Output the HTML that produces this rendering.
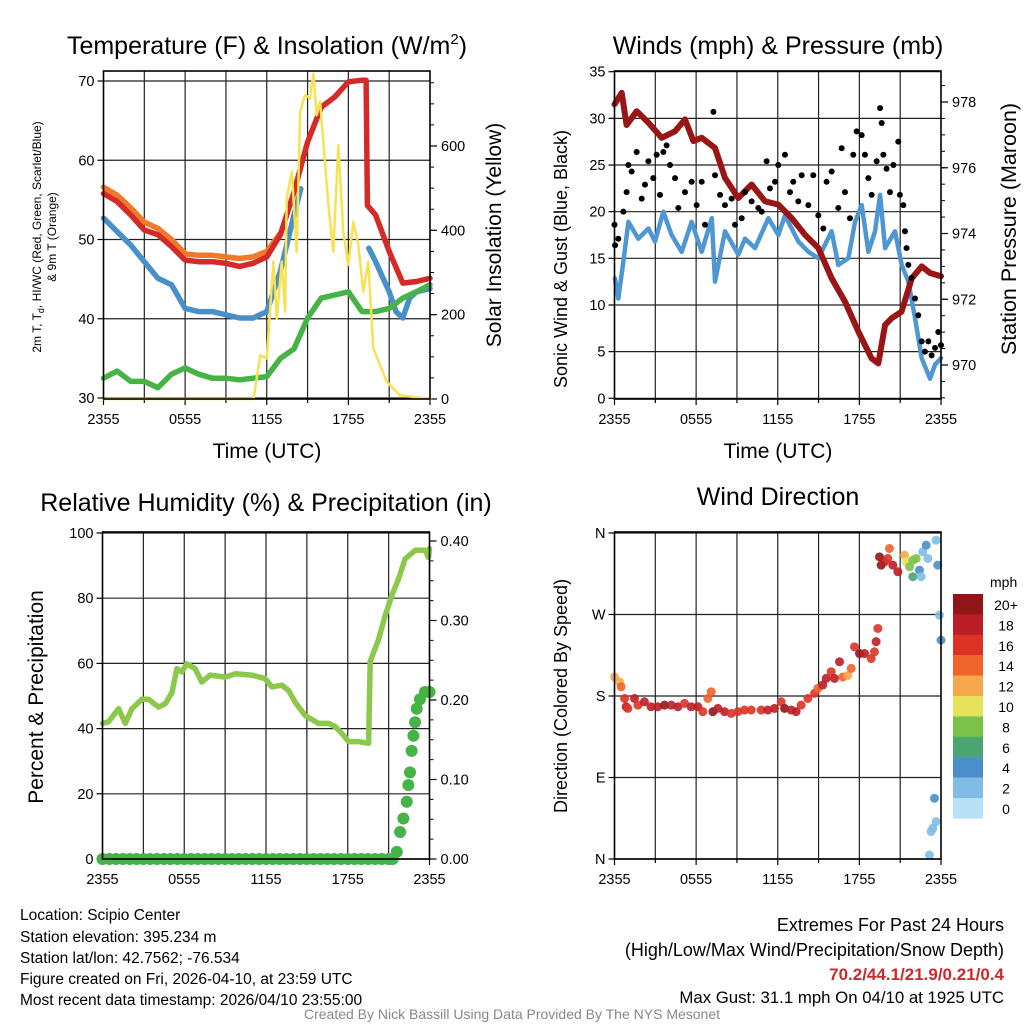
<!DOCTYPE html>
<html><head><meta charset="utf-8"><style>
body{margin:0;background:#fff;font-family:"Liberation Sans",sans-serif}
svg{display:block}
</style></head><body>
<svg id="s" width="1024" height="1024" viewBox="0 0 1024 1024" font-family="Liberation Sans, sans-serif">
<text x="267" y="54" font-size="25" text-anchor="middle">Temperature (F) &amp; Insolation (W/m<tspan dy="-10" font-size="15">2</tspan><tspan dy="10">)</tspan></text>
<text x="778" y="54" font-size="25" text-anchor="middle">Winds (mph) &amp; Pressure (mb)</text>
<text x="266" y="511" font-size="25" text-anchor="middle">Relative Humidity (%) &amp; Precipitation (in)</text>
<text x="778" y="505" font-size="25" text-anchor="middle">Wind Direction</text>
<text transform="translate(41,237) rotate(-90)" font-size="12" text-anchor="middle">2m T, T<tspan font-size="9" dy="3">d</tspan><tspan dy="-3">, HI/WC (Red, Green, Scarlet/Blue)</tspan></text>
<text transform="translate(56,237) rotate(-90)" font-size="12" text-anchor="middle">&amp; 9m T (Orange)</text>
<text transform="translate(501,235) rotate(-90)" font-size="21" text-anchor="middle">Solar Insolation (Yellow)</text>
<text transform="translate(567,259) rotate(-90)" font-size="18" text-anchor="middle">Sonic Wind &amp; Gust (Blue, Black)</text>
<text transform="translate(1016,229) rotate(-90)" font-size="21.5" text-anchor="middle">Station Pressure (Maroon)</text>
<text transform="translate(43,697) rotate(-90)" font-size="21" text-anchor="middle">Percent &amp; Precipitation</text>
<text transform="translate(567,696) rotate(-90)" font-size="18" text-anchor="middle">Direction (Colored By Speed)</text>
<text x="267" y="458" font-size="21" text-anchor="middle">Time (UTC)</text>
<text x="778" y="458" font-size="21" text-anchor="middle">Time (UTC)</text>
<g font-size="15.5">
<text x="20" y="920">Location: Scipio Center</text>
<text x="20" y="942">Station elevation: 395.234 m</text>
<text x="20" y="963">Station lat/lon: 42.7562; -76.534</text>
<text x="20" y="984">Figure created on Fri, 2026-04-10, at 23:59 UTC</text>
<text x="20" y="1005">Most recent data timestamp: 2026/04/10 23:55:00</text>
</g>
<g font-size="18" text-anchor="end">
<text x="1004" y="931">Extremes For Past 24 Hours</text>
<text x="1004" y="956">(High/Low/Max Wind/Precipitation/Snow Depth)</text>
<text x="1004" y="980" fill="#cc2a2a" font-weight="bold" font-size="17">70.2/44.1/21.9/0.21/0.4</text>
<text x="1004" y="1003" font-size="16.8">Max Gust: 31.1 mph On 04/10 at 1925 UTC</text>
</g>
<text x="512" y="1019" font-size="14" fill="#888" text-anchor="middle">Created By Nick Bassill Using Data Provided By The NYS Mesonet</text>
<g id="cb"></g>
</svg>
<script>
// ---------- data ----------
const xTickLabels=["2355","0555","1155","1755","2355"];
const tempTimes=[0,1,2,3,4,5,6,7,8,9,10,11,12,13,14,15,16,17,18,19,19.3,19.4,20,21,22,23,24];
const tempT=[55.8,54.8,53.1,51.2,50.6,49.1,47.4,47.2,47.2,47,46.6,47,47.8,50.6,56,62.3,66.7,68,69.9,70.1,70.1,54.3,53.1,48.5,44.5,44.7,45.1];
const temp9mTimes=[0,1,2,3,4,5,6,7,8,9,10,11,12,13];
const temp9m=[56.6,55.6,54,52.2,51.4,50,48.2,48,48,47.8,47.6,47.8,48.5,50.8];
const wcTimes1=[0,1,2,3,4,5,6,7,8,9,10,11,12,13,14,14.5];
const wc1=[52.7,51,49.3,47.2,45.1,44.3,41.3,40.9,40.9,40.5,40.1,40.1,40.9,46,53.1,56.4];
const wcTimes2=[19.5,20,21,21.5,22,22.5,23,24];
const wc2=[48.9,47.2,43.4,40.9,40.1,42.6,43.4,43.8];
const dewTimes=[0,1,2,3,4,5,6,7,8,9,10,11,12,13,14,15,16,17,18,19,20,21,22,23,24];
const dewVals=[32.5,33.4,32.1,32.1,31.3,33,33.8,33,32.5,32.5,32.3,32.5,32.7,35,36.2,40.1,42.6,43,43.4,40.9,40.9,41.3,42.6,43.4,44.3];
const solTimes=[0,10.54,11.03,11.52,12.0,12.49,12.74,13.1,13.35,13.47,13.84,14.2,14.45,14.82,15.18,15.43,15.67,15.92,16.16,16.53,16.89,17.26,17.63,17.99,18.36,18.73,19.1,19.46,19.83,20.32,20.81,21.78,24];
const solVals=[0,0,0,104,96,326,191,326,207,476,539,349,681,721,713,772,673,705,610,460,349,602,397,318,420,365,254,326,120,81,41,9,0];
const tempTicks=[30,40,50,60,70];
const solTicks=[0,200,400,600];

const presTimes=[0,0.53,0.89,1.63,2.49,3.47,4.45,5.18,5.8,6.41,7.39,8.12,9.1,10.08,11.06,12.04,13.02,14.0,14.98,15.96,16.94,17.92,18.9,19.39,19.89,20.37,21.1,21.85,22.58,23.19,24];
const presVals=[977.93,978.28,977.3,977.72,977.37,976.91,977.11,977.47,976.81,976.91,976.6,975.69,975.08,975.49,974.98,974.88,974.47,973.96,973.56,972.64,971.93,971.02,970.2,970.05,971.22,971.42,971.62,972.64,973.0,972.8,972.7];
const windTimes=[0.04,0.28,0.65,1.02,1.75,2.49,2.98,3.59,4.2,4.94,5.67,6.41,7.15,7.39,8.12,9.1,9.59,10.33,11.31,12.04,12.53,13.51,14.25,14.98,15.96,16.45,17.19,17.68,18.17,18.66,19.15,19.52,19.89,20.62,21.11,21.6,22.09,22.58,23.19,23.56,24];
const windVals=[12.85,10.7,14.6,18.9,17.1,18.2,16.8,20,17.5,15.7,18.9,15.7,19.3,12.5,17.9,15.4,17.1,16.1,19.3,17.5,19.6,16.8,15.7,15,17.9,14.3,15,18.9,20.7,15.7,17.9,21.8,16.1,17.9,14.3,12.5,8.6,4.3,2.1,3.6,4.3];
const gustTimes=[0,0.04,0.28,0.65,0.89,1.02,1.26,1.63,2.0,2.24,2.49,2.85,3.1,3.34,3.59,3.83,4.08,4.45,4.69,5.18,5.67,6.04,6.41,6.65,7.27,7.39,7.76,8.12,8.61,8.86,9.35,9.59,10.08,10.57,10.82,11.18,11.43,11.8,12.04,12.53,12.9,13.14,13.51,13.76,14.25,14.61,14.98,15.35,15.59,15.96,16.45,16.7,16.94,17.31,17.55,17.8,18.17,18.41,18.66,18.9,19.27,19.52,19.64,19.76,20.0,20.25,20.5,20.86,20.98,21.23,21.35,21.47,21.6,21.84,22.09,22.33,22.58,22.82,23.07,23.31,23.56,23.8,24];
const gustVals=[18.6,16.4,17.1,20,22.1,25,24.3,26.4,21.4,22.9,25.4,23.6,26.1,21.8,26.4,27.1,25,23.6,20.4,22.1,23.2,20.7,23.2,18.6,30.7,23.9,21.8,20.7,21.4,18.6,19.3,22.1,21.1,20.4,20,25.4,22.5,23.2,25,26.1,22.1,23.2,21.1,23.9,20.7,23.9,19.6,18.2,23.2,24.3,20.4,26.8,22.1,19.3,26.1,28.6,28.2,26.1,23.6,21.8,25.4,31.1,29.5,26.1,24.6,22.1,25,27.5,21.8,20.7,17.9,16.1,14.3,12.9,10.7,8.9,6.1,5,6.1,4.6,5.4,7.1,5.7];
const windTicks=[0,5,10,15,20,25,30,35];
const presTicks=[970,972,974,976,978];

const rhTimes=[0,0.44,1.18,1.67,2.16,2.89,3.38,4.11,4.6,5.09,5.46,5.83,6.19,6.8,7.29,7.9,9.01,9.74,10.96,11.94,12.43,13.17,13.66,14.14,14.88,15.86,16.59,17.08,17.57,18.06,18.79,19.53,19.65,20.26,20.75,21.24,21.73,22.22,22.95,23.69,23.93,24];
const rhVals=[41.6,42.1,46.1,41.6,46.1,49,49,46.6,47.6,51,58.4,57.4,59.9,58.4,54.3,56.4,55.8,56.8,56.4,55.3,52.8,53.3,51.7,48.1,44,41.6,41.6,40.6,38.5,36,36,35.5,60.6,67.3,74.7,80.9,86,92.1,94.7,94.7,92.5,95.2];
const precipTimes=[0,0.5,1,1.5,2,2.5,3,3.5,4,4.5,5,5.5,6,6.5,7,7.5,8,8.5,9,9.5,10,10.5,11,11.5,12,12.5,13,13.5,14,14.5,15,15.5,16,16.5,17,17.5,18,18.5,19,19.5,20,20.5,21,21.3,21.6,21.84,22.08,22.33,22.45,22.57,22.69,22.82,22.94,23.06,23.3,23.67,24];
const precipVals=[0,0,0,0,0,0,0,0,0,0,0,0,0,0,0,0,0,0,0,0,0,0,0,0,0,0,0,0,0,0,0,0,0,0,0,0,0,0,0,0,0,0,0,0,0.009,0.034,0.051,0.072,0.093,0.109,0.136,0.155,0.172,0.189,0.201,0.21,0.21];
const rhTicks=[0,20,40,60,80,100];
const precipTicks=[0,0.1,0.2,0.3,0.4];

const dirTimes=[0,0.37,0.49,0.74,0.86,0.98,1.47,1.72,2.2,2.69,3.18,3.68,4.17,4.66,5.15,5.64,6.13,6.49,6.86,7.11,7.23,7.6,8.09,8.58,9.07,9.56,10.05,10.78,11.27,11.76,12.25,12.5,12.99,13.35,13.72,14.21,14.7,14.95,15.31,15.56,15.93,16.17,16.54,16.78,17.15,17.4,17.64,18.01,18.38,18.87,19.11,19.23,19.36,19.48,19.6,19.85,20.09,20.21,20.46,20.83,21.32,21.44,21.69,21.93,22.18,21.93,22.42,22.54,22.66,22.91,23.03,23.64,23.76,23.89,24,23.52,23.64,23.4,23.27,23.15];
const dirVals=[201,195.7,190.2,177.3,168.1,166.3,177.3,169.9,173.6,168.1,168.1,169.9,169.9,168.1,171.8,168.1,168.1,162.7,177.3,184.7,162.7,166.3,162.7,160.8,162.7,164.5,164.5,164.5,164.5,166.3,173.6,166.3,164.5,162.7,169.9,177.3,182.9,188.4,192.1,199.4,206.8,199.4,217.8,201,202.7,210.5,234.3,226.9,226.9,221.4,228.8,240,254.6,333.7,324.5,328.2,331.9,342.9,324.5,317.2,335.5,328.2,322.7,330,331.9,311.7,319,311.7,339.2,346.6,331.9,352,324.5,269.3,241.7,67,41.3,34,30.3,4.4];
const dirSpeeds=[12,12,14,16,18,16,18,16,18,18,18,20,18,18,16,18,18,16,14,14,20,18,18,16,16,16,16,16,18,18,16,20,18,18,16,16,16,14,18,18,16,18,18,14,12,14,16,20,18,16,16,18,16,20,20,18,16,14,18,18,12,10,8,8,8,6,4,2,2,4,2,2,4,2,4,4,2,2,2,2];
const cbLabels=["20+","18","16","14","12","10","8","6","4","2","0"];
const cbColors=["#91161a","#bb1e24","#dd3327","#f0632a","#f6a94a","#e6e25a","#7cc24a","#4aa570","#4a8fc7","#80bce6","#b6e1f6"];
const dirTicks=[0,90,180,270,360];
const dirLabels=["N","E","S","W","N"];

// ---------- helpers ----------
const NS="http://www.w3.org/2000/svg";
const svg=document.getElementById('s');
function mk(tag,attrs,parent){const e=document.createElementNS(NS,tag);for(const k in attrs)e.setAttribute(k,attrs[k]);(parent||svg).appendChild(e);return e;}
function lin(d0,d1,r0,r1){return v=>r0+(v-d0)/(d1-d0)*(r1-r0);}

function panel(name,L,T,R,B,xs,ys,yTicks,yFmt,rs,rTicks,rFmt,rMinor,hGrid){
  const g=mk('g',{});
  
  
  for(let h=3;h<24;h+=3){const l=mk('line',{x1:xs(h),x2:xs(h),y1:T,y2:B,stroke:'#222','stroke-width':1.2},g);
    
    }
  hGrid.forEach(v=>{const l=mk('line',{x1:L,x2:R,y1:ys(v),y2:ys(v),stroke:'#222','stroke-width':1.2},g);
    
    });
  yTicks.forEach((v,i)=>{const y=ys(v);mk('line',{x1:L-6,x2:L,y1:y,y2:y,stroke:'#000','stroke-width':1.2},g);
    const t=mk('text',{x:L-9,y:y+5,'font-size':14.5,'text-anchor':'end'},g);t.textContent=yFmt(v,i);
    
    });
  if(rs){rTicks.forEach(v=>{const y=rs(v);mk('line',{x1:R,x2:R+7,y1:y,y2:y,stroke:'#000','stroke-width':1.2},g);
    const t=mk('text',{x:R+11,y:y+5,'font-size':14.5},g);t.textContent=rFmt(v);
    
    });
    rMinor.forEach(v=>{const y=rs(v);if(y<T-0.5||y>B+0.5)return;mk('line',{x1:R,x2:R+4,y1:y,y2:y,stroke:'#000','stroke-width':1},g);});}
  for(let h=0;h<=24;h+=3){mk('line',{x1:xs(h),x2:xs(h),y1:B,y2:B+(h%6==0?6:4),stroke:'#000','stroke-width':1.2},g);}
  xTickLabels.forEach((lab,i)=>{const t=mk('text',{x:xs(i*6),y:B+25,'font-size':14.5,'text-anchor':'middle'},g);t.textContent=lab;
    
    });
  return g;
}
function frame(name,L,T,R,B){const r=mk('rect',{x:L,y:T,width:R-L,height:B-T,fill:'none',stroke:'#000','stroke-width':1.6});
  
  }
function poly(name,times,vals,xs,ys,color,w){const p=mk('polyline',{points:times.map((t,i)=>xs(t).toFixed(1)+','+ys(vals[i]).toFixed(1)).join(' '),fill:'none',stroke:color,'stroke-width':w,'stroke-linejoin':'round','stroke-linecap':'round'});
  
  return p;}
function dots(name,times,vals,xs,ys,color,r){const g=mk('g',{fill:color});
  
  
  times.forEach((t,i)=>{mk('circle',{cx:xs(t),cy:ys(vals[i]),r:r},g);});}
function range(a,b,s){const o=[];for(let v=a;v<=b+1e-9;v+=s)o.push(+v.toFixed(3));return o;}

// ---------- panel 1 ----------
{const L=103.5,R=430,T=71,B=399;
 const xs=lin(0,24,L,R),ys=lin(30,70,398,81),rs=lin(0,600,399,146);
 panel('temp',L,T,R,B,xs,ys,tempTicks,v=>v,rs,solTicks,v=>v,range(0,750,50),tempTicks);
 poly('temp-9m-line',temp9mTimes,temp9m,xs,ys,'#f07a2a',5.5);
 poly('temp-2m-line',tempTimes,tempT,xs,ys,'#d42a28',5.5);
 poly('windchill-line-1',wcTimes1,wc1,xs,ys,'#4a90c8',5.5);
 poly('windchill-line-2',wcTimes2,wc2,xs,ys,'#4a90c8',5.5);
 poly('dewpoint-line',dewTimes,dewVals,xs,ys,'#46b346',5.5);
 poly('insolation-line',solTimes,solVals,xs,rs,'#f7e253',2.5);
 frame('temp',L,T,R,B);}
// ---------- panel 2 ----------
{const L=614.5,R=941,T=71,B=399;
 const xs=lin(0,24,L,R),ys=lin(0,35,398.3,71.7),rs=lin(970,978,365,102);
 panel('wind',L,T,R,B,xs,ys,windTicks,v=>v,rs,presTicks,v=>v,range(969,979,0.5),windTicks);
 poly('wind-speed-line',windTimes,windVals,xs,ys,'#4f97d2',4.5);
 poly('pressure-line',presTimes,presVals,xs,rs,'#9a1515',6);
 dots('gust-dots',gustTimes,gustVals,xs,ys,'#000',3);
 frame('wind',L,T,R,B);}
// ---------- panel 3 ----------
{const L=102.5,R=429.5,T=532,B=859;
 const xs=lin(0,24,L,R),ys=lin(0,100,859,533),rs=lin(0,0.4,859,541);
 panel('rh',L,T,R,B,xs,ys,rhTicks,v=>v,rs,precipTicks,v=>v.toFixed(2),range(0,0.4,0.025),rhTicks);
 poly('rh-line',rhTimes,rhVals,xs,ys,'#8cc84b',5.5);
 dots('precip-dots',precipTimes,precipVals,xs,rs,'#45b345',6);
 frame('rh',L,T,R,B);}
// ---------- panel 4 ----------
{const L=614.5,R=941,T=532,B=859;
 const xs=lin(0,24,L,R),ys=lin(0,360,859,533);
 panel('dir',L,T,R,B,xs,ys,dirTicks,(v,i)=>dirLabels[i],null,[],null,[],dirTicks);
 const g=mk('g',{});
 
 
 dirTimes.forEach((t,i)=>{const bin=Math.min(10,Math.floor(dirSpeeds[i]/2));
   mk('circle',{cx:xs(t),cy:ys(dirVals[i]),r:4.5,fill:cbColors[10-bin],'fill-opacity':0.9},g);});
 frame('dir',L,T,R,B);
 const cb=document.getElementById('cb');
 const t0=mk('text',{x:990,y:587,'font-size':14},cb);t0.textContent='mph';
 
 
 cbColors.forEach((c,i)=>{mk('rect',{x:953,y:594+i*20.4,width:30,height:20.6,fill:c},cb);
   const t=mk('text',{x:1006,y:610+i*20.4,'font-size':14,'text-anchor':'middle'},cb);t.textContent=cbLabels[i];
   
   });}
</script>
</body></html>
